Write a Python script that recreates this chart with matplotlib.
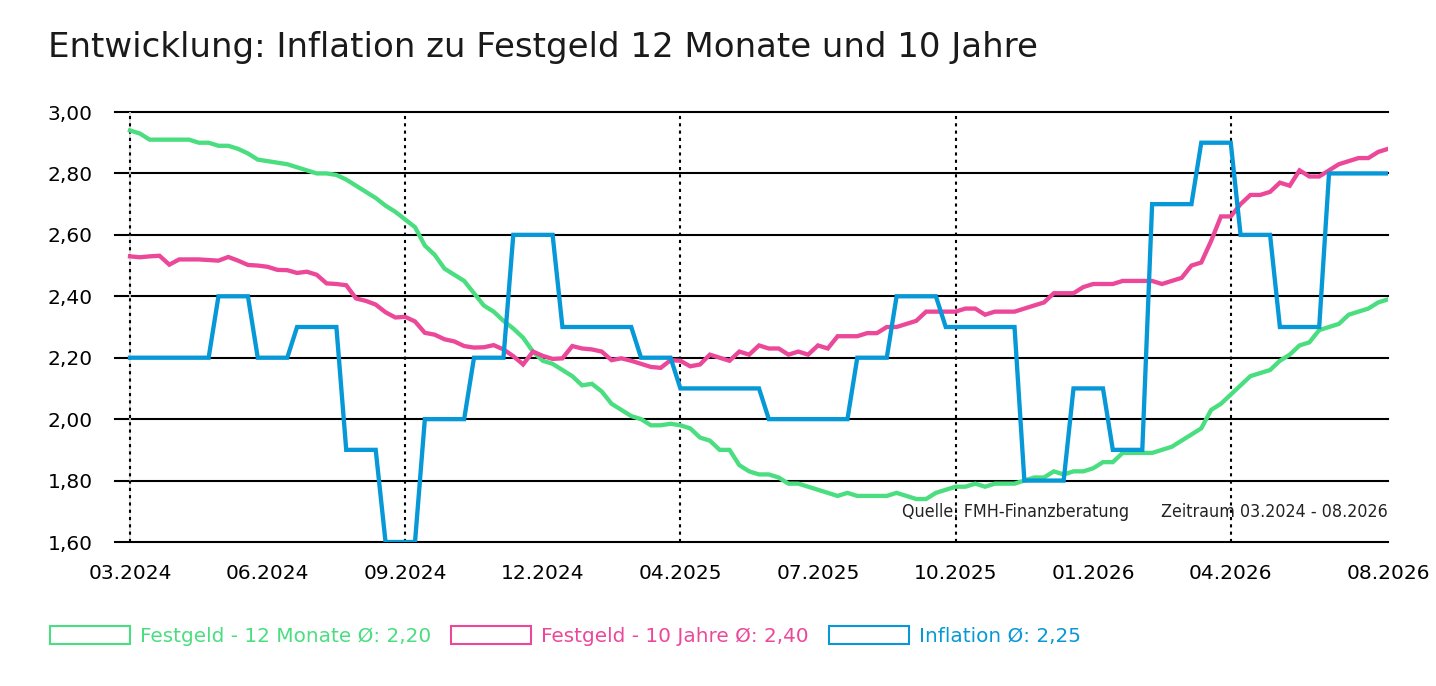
import matplotlib
matplotlib.use("Agg")
import matplotlib.pyplot as plt
from matplotlib.patches import Patch

# weekly values, 03.2024 - 08.2026
festgeld_12m = [2.94, 2.93, 2.91, 2.91, 2.91, 2.91, 2.91, 2.90, 2.90, 2.89,
                2.89, 2.88, 2.865, 2.845, 2.84, 2.835, 2.83, 2.82, 2.81, 2.80,
                2.80, 2.795, 2.78, 2.76, 2.74, 2.72, 2.695, 2.675, 2.65, 2.625,
                2.565, 2.535, 2.49, 2.47, 2.45, 2.41, 2.37, 2.35, 2.32, 2.295,
                2.265, 2.22, 2.19, 2.18, 2.16, 2.14, 2.11, 2.115, 2.09, 2.05,
                2.03, 2.01, 2.00, 1.98, 1.98, 1.985, 1.98, 1.97, 1.94, 1.93,
                1.90, 1.90, 1.85, 1.83, 1.82, 1.82, 1.81, 1.79, 1.79, 1.78,
                1.77, 1.76, 1.75, 1.76, 1.75, 1.75, 1.75, 1.75, 1.76, 1.75,
                1.74, 1.74, 1.76, 1.77, 1.78, 1.78, 1.79, 1.78, 1.79, 1.79,
                1.79, 1.80, 1.81, 1.81, 1.83, 1.82, 1.83, 1.83, 1.84, 1.86,
                1.86, 1.89, 1.89, 1.89, 1.89, 1.90, 1.91, 1.93, 1.95, 1.97,
                2.03, 2.05, 2.08, 2.11, 2.14, 2.15, 2.16, 2.19, 2.21, 2.24,
                2.25, 2.29, 2.30, 2.31, 2.34, 2.35, 2.36, 2.38, 2.39]

festgeld_10j = [2.53, 2.527, 2.53, 2.532, 2.503, 2.52, 2.52, 2.52, 2.518, 2.516,
                2.528, 2.516, 2.502, 2.50, 2.496, 2.486, 2.485, 2.476, 2.48, 2.47,
                2.442, 2.44, 2.436, 2.393, 2.385, 2.373, 2.348, 2.331, 2.333, 2.318,
                2.281, 2.275, 2.26, 2.253, 2.238, 2.233, 2.234, 2.241, 2.227, 2.205,
                2.178, 2.22, 2.206, 2.196, 2.198, 2.238, 2.23, 2.227, 2.22, 2.192,
                2.198, 2.19, 2.18, 2.17, 2.167, 2.192, 2.19, 2.172, 2.178, 2.21,
                2.20, 2.19, 2.22, 2.21, 2.24, 2.23, 2.23, 2.21, 2.22, 2.21,
                2.24, 2.23, 2.27, 2.27, 2.27, 2.28, 2.28, 2.30, 2.30, 2.31,
                2.32, 2.35, 2.35, 2.35, 2.35, 2.36, 2.36, 2.34, 2.35, 2.35,
                2.35, 2.36, 2.37, 2.38, 2.41, 2.41, 2.41, 2.43, 2.44, 2.44,
                2.44, 2.45, 2.45, 2.45, 2.45, 2.44, 2.45, 2.46, 2.50, 2.51,
                2.58, 2.66, 2.66, 2.70, 2.73, 2.73, 2.74, 2.77, 2.76, 2.81,
                2.79, 2.79, 2.81, 2.83, 2.84, 2.85, 2.85, 2.87, 2.88]

inflation = [2.2, 2.2, 2.2, 2.2, 2.2, 2.2, 2.2, 2.2, 2.2, 2.4,
             2.4, 2.4, 2.4, 2.2, 2.2, 2.2, 2.2, 2.3, 2.3, 2.3,
             2.3, 2.3, 1.9, 1.9, 1.9, 1.9, 1.6, 1.6, 1.6, 1.6,
             2.0, 2.0, 2.0, 2.0, 2.0, 2.2, 2.2, 2.2, 2.2, 2.6,
             2.6, 2.6, 2.6, 2.6, 2.3, 2.3, 2.3, 2.3, 2.3, 2.3,
             2.3, 2.3, 2.2, 2.2, 2.2, 2.2, 2.1, 2.1, 2.1, 2.1,
             2.1, 2.1, 2.1, 2.1, 2.1, 2.0, 2.0, 2.0, 2.0, 2.0,
             2.0, 2.0, 2.0, 2.0, 2.2, 2.2, 2.2, 2.2, 2.4, 2.4,
             2.4, 2.4, 2.4, 2.3, 2.3, 2.3, 2.3, 2.3, 2.3, 2.3,
             2.3, 1.8, 1.8, 1.8, 1.8, 1.8, 2.1, 2.1, 2.1, 2.1,
             1.9, 1.9, 1.9, 1.9, 2.7, 2.7, 2.7, 2.7, 2.7, 2.9,
             2.9, 2.9, 2.9, 2.6, 2.6, 2.6, 2.6, 2.3, 2.3, 2.3,
             2.3, 2.3, 2.8, 2.8, 2.8, 2.8, 2.8, 2.8, 2.8]

tick_idx = [0, 14, 28, 42, 56, 70, 84, 98, 112, 128]
tick_labels = ["03.2024", "06.2024", "09.2024", "12.2024", "04.2025",
               "07.2025", "10.2025", "01.2026", "04.2026", "08.2026"]
marker_idx = [0, 28, 56, 84, 112]
y_ticks = [1.6, 1.8, 2.0, 2.2, 2.4, 2.6, 2.8, 3.0]

labels = ["Festgeld - 12 Monate Ø: 2,20", "Festgeld - 10 Jahre Ø: 2,40", "Inflation Ø: 2,25"]
colors = ["#4ade80", "#ec4899", "#0798d8"]

W, H = 1436, 686
fig = plt.figure(figsize=(W / 100, H / 100), dpi=100)
ax = fig.add_axes([115 / W, 1 - 542 / H, (1388 - 115) / W, (542 - 112) / H])

x = list(range(len(inflation)))
ax.set_xlim(-15 / 9.828, len(x) - 1)
ax.set_ylim(1.6, 3.0)

for y in y_ticks:
    ax.axhline(y, color="black", lw=1.5, zorder=1, clip_on=False)
ax.axvline(0, color="#dddddd", lw=1.2, zorder=1)
for i in marker_idx:
    ax.axvline(i, color="black", lw=1.5, ls=(0, (1.5, 2)), zorder=1)

for series, c in zip([festgeld_12m, festgeld_10j, inflation], colors):
    ax.plot(x, series, color=c, lw=3.1, zorder=3, solid_joinstyle="miter")

for s in ax.spines.values():
    s.set_visible(False)
ax.set_yticks(y_ticks)
ax.set_yticklabels([f"{v:.2f}".replace(".", ",") for v in y_ticks])
ax.set_xticks(tick_idx)
ax.set_xticklabels(tick_labels)
ax.tick_params(axis="y", length=0, pad=16, labelsize=14.5)
ax.tick_params(axis="x", length=0, pad=16, labelsize=14.5)

fig.text(48 / W, 1 - 48 / H, "Entwicklung: Inflation zu Festgeld 12 Monate und 10 Jahre",
         fontsize=24.5, color="#1a1a1a", va="center", ha="left")

fig.text(902 / W, 1 - 512 / H, "Quelle: FMH-Finanzberatung", fontsize=12.8,
         fontstretch="condensed", va="center", ha="left", color="#222222")
fig.text(1388 / W, 1 - 512 / H, "Zeitraum 03.2024 - 08.2026", fontsize=12.8,
         fontstretch="condensed", va="center", ha="right", color="#222222")

handles = [Patch(facecolor="white", edgecolor=c, lw=1.5) for c in colors]
leg = fig.legend(handles, labels, loc="center left", bbox_to_anchor=(50 / W, 1 - 636 / H),
                 ncol=3, frameon=False, fontsize=14.4, handlelength=4.0, handleheight=1.0,
                 handletextpad=0.5, columnspacing=1.0, borderpad=0, borderaxespad=0)
for t, c in zip(leg.get_texts(), colors):
    t.set_color(c)

fig.savefig("out.png", dpi=100)
